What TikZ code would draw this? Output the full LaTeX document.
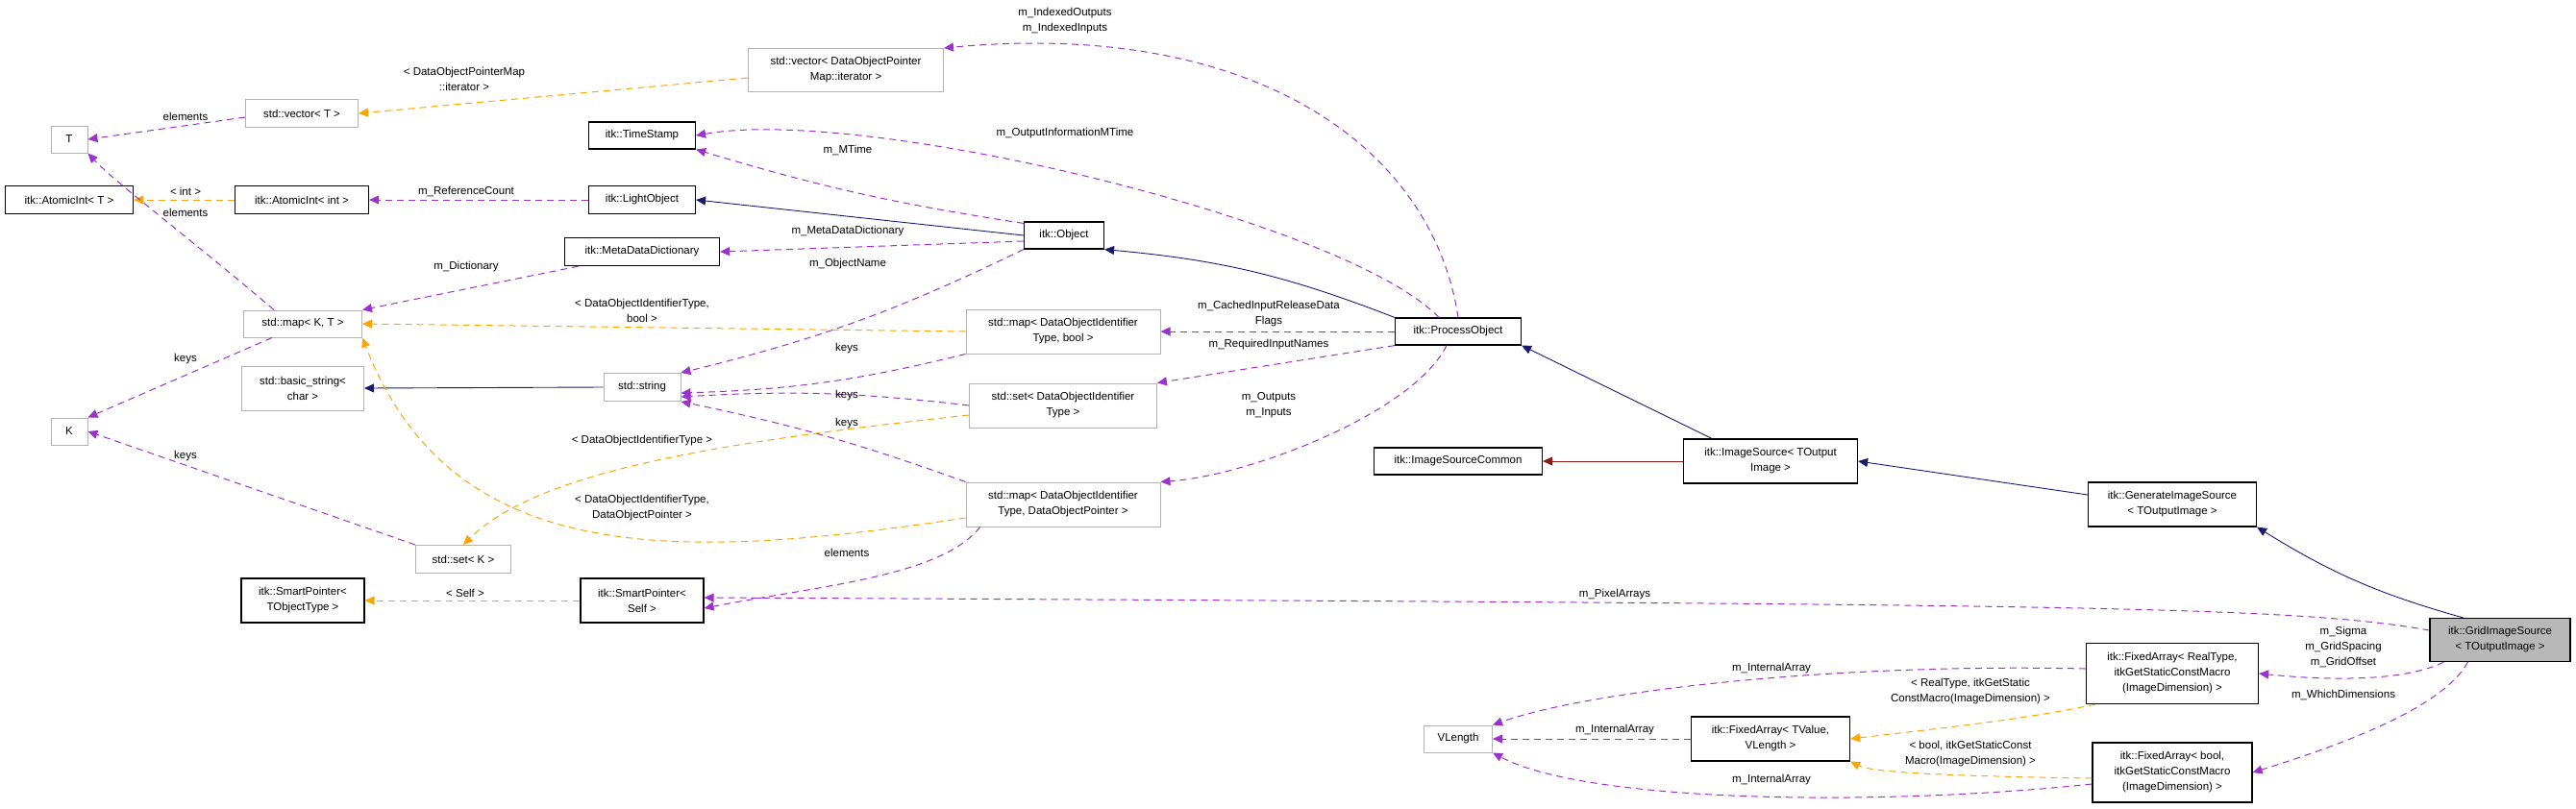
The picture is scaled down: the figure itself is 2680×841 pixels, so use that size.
\documentclass[tikz,border=0pt]{standalone}
\usepackage{fontspec}
\setmainfont{Liberation Sans}
\usetikzlibrary{arrows.meta}
\definecolor{navy}{RGB}{25,25,112}
\definecolor{usecol}{RGB}{154,50,205}
\definecolor{tplcol}{RGB}{255,165,0}
\definecolor{redcol}{RGB}{139,26,26}
\tikzset{
  box/.style={draw, rectangle, inner sep=2pt, align=center, font=\fontsize{11.5}{16}\selectfont},
  cls/.style={box, draw=black, line width=1.2pt},
  ext/.style={box, draw=black!30, line width=1pt},
  tip/.style={-{Triangle[length=10pt,width=9pt]}},
  inh/.style={tip, draw=navy, line width=0.9pt},
  rel/.style={tip, draw=usecol, dash pattern=on 7pt off 5pt, line width=1pt},
  tpl/.style={tip, draw=tplcol, dash pattern=on 7pt off 5pt, line width=1pt},
  lbl/.style={align=center, inner sep=0pt, font=\fontsize{11.5}{16}\selectfont}
}
\begin{document}
\begin{tikzpicture}[x=1pt, y=-1pt]
\useasboundingbox (0,0) rectangle (2680,841);

% left column
\node[ext, minimum width=38, minimum height=28] (t) at (72,145) {T};
\node[cls, minimum width=133, minimum height=29] (atomt) at (72,208) {itk::AtomicInt< T >};
\node[ext, minimum width=38, minimum height=28] (k) at (72,449) {K};
\node[cls, minimum width=128, minimum height=46] (spt) at (315,625) {itk::SmartPointer<\\TObjectType >};

% second column
\node[ext, minimum width=117, minimum height=29] (vect) at (314,118) {std::vector< T >};
\node[cls, minimum width=139, minimum height=29] (atomint) at (314,208) {itk::AtomicInt< int >};
\node[ext, minimum width=123, minimum height=28] (mapkt) at (315,337) {std::map< K, T >};
\node[ext, minimum width=127, minimum height=46] (bstr) at (315,404) {std::basic\_string<\\char >};
\node[ext, minimum width=99, minimum height=29] (setk) at (482,582) {std::set< K >};

% third column
\node[cls, minimum width=111, minimum height=28] (tstamp) at (668,141) {itk::TimeStamp};
\node[cls, minimum width=111, minimum height=29] (light) at (668,208) {itk::LightObject};
\node[cls, minimum width=161, minimum height=29] (mdd) at (668,262) {itk::MetaDataDictionary};
\node[ext, minimum width=80, minimum height=29] (str) at (668,403) {std::string};
\node[cls, minimum width=128, minimum height=46] (sps) at (668,625) {itk::SmartPointer<\\Self >};

% containers
\node[ext, minimum width=203, minimum height=45] (vecdop) at (880,73) {std::vector< DataObjectPointer\\Map::iterator >};
\node[ext, minimum width=202, minimum height=46] (mapbool) at (1106,345) {std::map< DataObjectIdentifier\\Type, bool >};
\node[ext, minimum width=195, minimum height=46] (setdoi) at (1106,422) {std::set< DataObjectIdentifier\\Type >};
\node[ext, minimum width=202, minimum height=46] (mapdop) at (1106,525) {std::map< DataObjectIdentifier\\Type, DataObjectPointer >};

% pipeline
\node[cls, minimum width=83, minimum height=28] (obj) at (1107,245) {itk::Object};
\node[cls, minimum width=131, minimum height=28] (proc) at (1517,345) {itk::ProcessObject};
\node[cls, minimum width=175, minimum height=28] (isc) at (1517,480) {itk::ImageSourceCommon};
\node[cls, minimum width=181, minimum height=46] (isrc) at (1842,480) {itk::ImageSource< TOutput\\Image >};
\node[cls, minimum width=175, minimum height=46] (gen) at (2260,525) {itk::GenerateImageSource\\< TOutputImage >};
\node[cls, fill=black!28, minimum width=146, minimum height=45] (grid) at (2601,666) {itk::GridImageSource\\< TOutputImage >};

% fixed arrays
\node[cls, minimum width=179, minimum height=63] (fareal) at (2260,701) {itk::FixedArray< RealType,\\itkGetStaticConstMacro\\(ImageDimension) >};
\node[ext, minimum width=71, minimum height=28] (vlen) at (1517,769) {VLength};
\node[cls, minimum width=165, minimum height=46] (faval) at (1842,769) {itk::FixedArray< TValue,\\VLength >};
\node[cls, minimum width=166, minimum height=62] (fabool) at (2260,804) {itk::FixedArray< bool,\\itkGetStaticConstMacro\\(ImageDimension) >};

% inheritance
\draw[inh] (obj.west) -- (light.east);
\draw[inh] (proc.north west) to[bend right=8] (obj.south east);
\draw[inh] (isrc.north west) ++(30,0) -- (proc.south east);
\draw[tip, draw=redcol, line width=0.9pt] (isrc.west) -- (isc.east);
\draw[inh] (gen.west) ++(0,-10) -- (isrc.east);
\draw[inh] (grid.north west) ++(35,0) to[bend left=8] (gen.south east);
\draw[inh] (str.west) -- (bstr.east);

% template instances
\draw[tpl] (vecdop.west) ++(0,8) -- (vect.east);
\draw[tpl] (atomint.west) -- (atomt.east);
\draw[tpl] (mapbool.west) -- (mapkt.east);
\draw[tpl] (setdoi.west) ++(0,10) .. controls (750,460) and (560,490) .. (setk.north);
\draw[tpl] (mapdop.west) ++(0,14) .. controls (700,585) and (470,590) .. (mapkt.south east);
\draw[tpl] (sps.west) -- (spt.east);
\draw[tpl] (fareal.south west) ++(10,0) .. controls (2100,750) and (2000,760) .. (faval.east);
\draw[tpl] (fabool.west) ++(0,6) .. controls (2050,808) and (1950,805) .. (faval.south east);

% usage
\draw[rel] (vect.west) ++(0,4) -- (t.east);
\draw[rel] (mapkt.north) ++(-30,0) .. controls (200,250) and (120,190) .. (t.south east);
\draw[rel] (light.west) -- (atomint.east);
\draw[rel] (obj.north west) ++(0,2) to[bend left=4] (tstamp.south east);
\draw[rel] (obj.west) ++(0,6) -- (mdd.east);
\draw[rel] (obj.south west) to[bend left=6] (str.north east);
\draw[rel] (mdd.south west) ++(15,0) -- (mapkt.north east);
\draw[rel] (proc.north) .. controls (1490,150) and (1300,20) .. (vecdop.north east);
\draw[rel] (proc.north) ++(-20,0) .. controls (1400,230) and (900,110) .. (tstamp.east);
\draw[rel] (proc.west) -- (mapbool.east);
\draw[rel] (proc.south west) -- (setdoi.north east);
\draw[rel] (proc.south) ++(-12,0) .. controls (1470,430) and (1300,495) .. (mapdop.north east);
\draw[rel] (mapbool.south west) to[bend left=6] ([yshift=-6]str.east);
\draw[rel] (setdoi.west) to[bend right=5] ([yshift=5]str.south east);
\draw[rel] (mapdop.north west) to[bend right=4] (str.south east);
\draw[rel] (mapdop.south west) ++(15,0) .. controls (980,600) and (850,610) .. ([yshift=-8]sps.east);
\draw[rel] (mapkt.south west) ++(30,0) -- (k.north east);
\draw[rel] (setk.north west) -- (k.east);
\draw[rel] (grid.west) ++(0,-10) .. controls (2380,630) and (2150,629) .. ([yshift=3]sps.east);
\draw[rel] (grid.south west) ++(15,0) .. controls (2500,710) and (2420,708) .. (fareal.east);
\draw[rel] (grid.south west) ++(40,0) .. controls (2540,740) and (2420,780) .. (fabool.east);
\draw[rel] (fareal.west) ++(0,-5) .. controls (1900,690) and (1650,720) .. (vlen.north east);
\draw[rel] (faval.west) -- (vlen.east);
\draw[rel] (fabool.west) ++(0,12) .. controls (1950,840) and (1650,835) .. (vlen.south east);

% labels
\node[lbl] (l1) at (193,121) {elements};
\node[lbl] (l2) at (193,221) {elements};
\node[lbl] (l3) at (193,199) {< int >};
\node[lbl] (l4) at (483,82) {< DataObjectPointerMap\\::iterator >};
\node[lbl] (l5) at (485,199) {m\_ReferenceCount};
\node[lbl] (l6) at (485,278) {m\_Dictionary};
\node[lbl] (l7) at (882,156) {m\_MTime};
\node[lbl] (l8) at (882,241) {m\_MetaDataDictionary};
\node[lbl] (l9) at (882,275) {m\_ObjectName};
\node[lbl] (l10) at (1108,22) {m\_IndexedOutputs\\m\_IndexedInputs};
\node[lbl] (l11) at (1108,139) {m\_OutputInformationMTime};
\node[lbl] (l12) at (1320,327) {m\_CachedInputReleaseData\\Flags};
\node[lbl] (l13) at (1320,359) {m\_RequiredInputNames};
\node[lbl] (l14) at (1320,422) {m\_Outputs\\m\_Inputs};
\node[lbl] (l15) at (668,323) {< DataObjectIdentifierType,\\bool >};
\node[lbl] (l16) at (881,363) {keys};
\node[lbl] (l17) at (881,412) {keys};
\node[lbl] (l18) at (881,441) {keys};
\node[lbl] (l19) at (668,459) {< DataObjectIdentifierType >};
\node[lbl] (l20) at (668,529) {< DataObjectIdentifierType,\\DataObjectPointer >};
\node[lbl] (l21) at (881,575) {elements};
\node[lbl] (l22) at (193,374) {keys};
\node[lbl] (l23) at (193,475) {keys};
\node[lbl] (l24) at (484,617) {< Self >};
\node[lbl] (l25) at (1680,619) {m\_PixelArrays};
\node[lbl] (l26) at (2438,673) {m\_Sigma\\m\_GridSpacing\\m\_GridOffset};
\node[lbl] (l27) at (2438,723) {m\_WhichDimensions};
\node[lbl] (l28) at (1843,696) {m\_InternalArray};
\node[lbl] (l29) at (2050,720) {< RealType, itkGetStatic\\ConstMacro(ImageDimension) >};
\node[lbl] (l30) at (1680,760) {m\_InternalArray};
\node[lbl] (l31) at (2050,785) {< bool, itkGetStaticConst\\Macro(ImageDimension) >};
\node[lbl] (l32) at (1843,812) {m\_InternalArray};
\end{tikzpicture}
\end{document}
